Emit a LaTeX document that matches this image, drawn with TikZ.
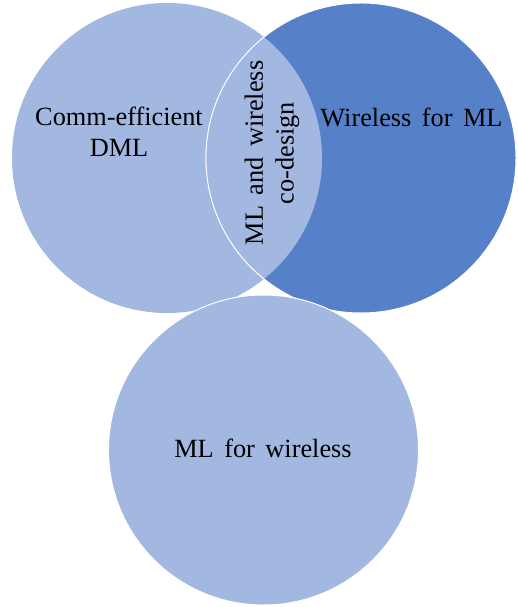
\documentclass[tikz,border=0pt]{standalone}
\usepackage{fontspec}
\setmainfont{Liberation Serif}
\usetikzlibrary{positioning}
\definecolor{vennlight}{HTML}{A2B8E1}
\definecolor{venndark}{HTML}{5680C8}
\newcommand\venntextfont{\fontsize{13.2}{15.5}\selectfont\spaceskip=0.4em plus 0.1em\relax}
\tikzset{
	venn/.style={
		circle, minimum size=155bp, inner sep=0pt, draw=white, line width=0.5bp
	},
	venntext/.style={
		font=\venntextfont, align=center, text=black
	}
}

\begin{document}
\begin{tikzpicture}[x=0.5bp, y=-0.5bp]
	\useasboundingbox (0,0) rectangle (518,607);

	\node[venn, fill=vennlight, draw=none] (dml) at (167,158) {};
	\node[venn, fill=venndark] (wfm) at (361,158) {};
	% overlap of the two upper circles
	\begin{scope}
		\clip (dml.center) circle [radius=155];
		\fill[vennlight] (wfm.center) circle [radius=155];
		\draw[white, line width=0.4bp] (wfm.center) circle [radius=155];
	\end{scope}
	\node[venn, fill=vennlight] (mfw) at (263.5,450) {};

	\node[venntext] (dmltext) at (119,132) {Comm-efficient\\DML};
	\node[venntext] (wfmtext) at (411.5,117) {Wireless for ML};
	\node[venntext, rotate=90] (codesign) at (272,153) {ML and wireless\\co-design};
	\node[venntext] (mfwtext) at (263,448) {ML for wireless};
\end{tikzpicture}
\end{document}
